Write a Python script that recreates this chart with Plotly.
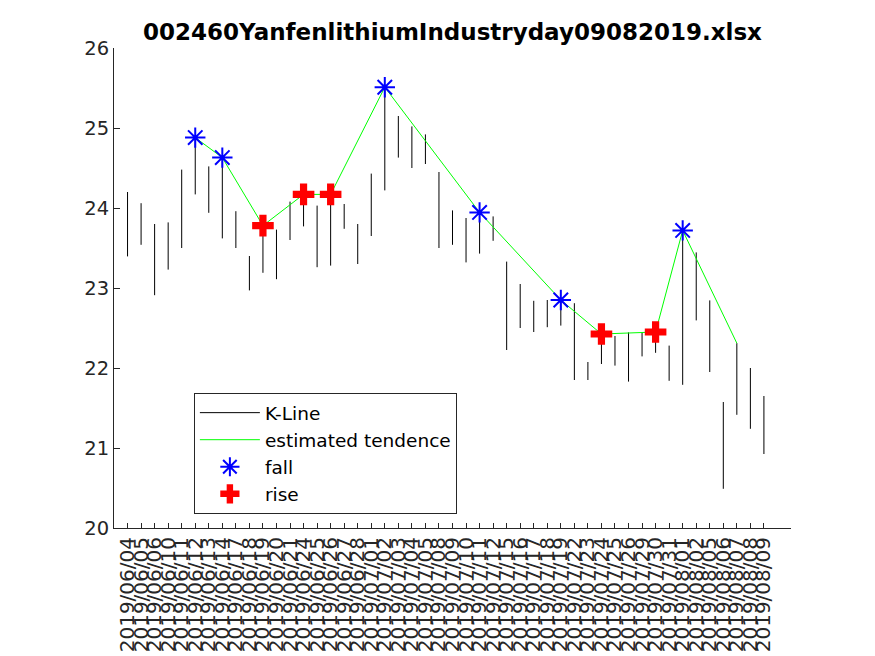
import plotly.graph_objects as go

dates = ["2019/06/04", "2019/06/05", "2019/06/06", "2019/06/10", "2019/06/11", "2019/06/12",
         "2019/06/13", "2019/06/14", "2019/06/17", "2019/06/18", "2019/06/19", "2019/06/20",
         "2019/06/21", "2019/06/24", "2019/06/25", "2019/06/26", "2019/06/27", "2019/06/28",
         "2019/07/01", "2019/07/02", "2019/07/03", "2019/07/04", "2019/07/05", "2019/07/08",
         "2019/07/09", "2019/07/10", "2019/07/11", "2019/07/12", "2019/07/15", "2019/07/16",
         "2019/07/17", "2019/07/18", "2019/07/19", "2019/07/22", "2019/07/23", "2019/07/24",
         "2019/07/25", "2019/07/26", "2019/07/29", "2019/07/30", "2019/07/31", "2019/08/01",
         "2019/08/02", "2019/08/05", "2019/08/06", "2019/08/07", "2019/08/08", "2019/08/09"]

high = [24.20, 24.06, 23.80, 23.82, 24.48, 24.88, 24.52, 24.63, 23.96, 23.40,
        23.80, 23.73, 24.08, 24.17, 24.03, 24.17, 24.05, 23.80, 24.43, 25.51,
        25.15, 25.02, 24.92, 24.45, 23.97, 23.875, 23.945, 23.895, 23.33, 23.05,
        22.84, 22.85, 22.85, 22.81, 22.075, 22.425, 22.40, 22.445, 22.44, 22.45,
        22.28, 23.72, 23.445, 22.845, 21.575, 22.31, 22.00, 21.65]
low = [23.395, 23.54, 22.91, 23.23, 23.50, 24.17, 23.94, 23.62, 23.50, 22.97,
       23.19, 23.11, 23.60, 23.77, 23.26, 23.28, 23.74, 23.30, 23.65, 24.22,
       24.63, 24.50, 24.55, 23.50, 23.54, 23.32, 23.43, 23.59, 22.225, 22.50,
       22.45, 22.51, 22.53, 21.85, 21.85, 22.05, 22.03, 21.83, 22.145, 22.19,
       21.84, 21.79, 22.595, 21.95, 20.49, 21.415, 21.24, 20.925]

trend_idx = [6, 8, 11, 14, 16, 20, 27, 33, 36, 40, 42, 46]
trend_val = [24.88, 24.63, 23.78, 24.17, 24.17, 25.51, 23.945, 22.85, 22.425, 22.45, 23.72, 22.31]

fall_idx = [6, 8, 20, 27, 33, 42]
fall_val = [24.88, 24.63, 25.51, 23.945, 22.85, 23.72]

rise_idx = [11, 14, 16, 36, 40]
rise_val = [23.78, 24.17, 24.17, 22.425, 22.45]

positions = list(range(1, len(dates) + 1))

kx, ky = [], []
for p, lo, hi in zip(positions, low, high):
    kx += [p, p, None]
    ky += [lo, hi, None]

axis_col = "#262626"
fnt = "DejaVu Sans, Liberation Sans, sans-serif"

fig = go.Figure()
fig.add_trace(go.Scatter(x=kx, y=ky, mode="lines", name="K-Line",
                         line=dict(color="black", width=1)))
fig.add_trace(go.Scatter(x=trend_idx, y=trend_val, mode="lines", name="estimated tendence",
                         line=dict(color="#00ff00", width=1)))
fig.add_trace(go.Scatter(x=fall_idx, y=fall_val, mode="markers", name="fall",
                         marker=dict(symbol="asterisk-open", size=17, color="blue",
                                     line=dict(color="blue", width=2))))
fig.add_trace(go.Scatter(x=rise_idx, y=rise_val, mode="markers", name="rise",
                         marker=dict(symbol="cross", size=18, color="red",
                                     line=dict(width=0))))

fig.update_layout(
    width=875, height=656,
    margin=dict(l=106, r=92, t=40, b=136),
    paper_bgcolor="white", plot_bgcolor="white",
    font=dict(family=fnt, size=19, color=axis_col),
    title=dict(text="<b>002460YanfenlithiumIndustryday09082019.xlsx</b>",
               x=0.5, xref="paper", xanchor="center",
               y=1 - 24 / 656, yref="container", yanchor="middle",
               font=dict(family=fnt, size=23, color="black")),
    showlegend=True,
    legend=dict(x=0.118, y=0.281, xanchor="left", yanchor="top",
                bgcolor="white", bordercolor=axis_col, borderwidth=1,
                font=dict(family=fnt, size=18.5, color="black"),
                tracegroupgap=0, itemwidth=60),
    xaxis=dict(range=[0, 50], tickmode="array", tickvals=positions, ticktext=dates,
               tickangle=-90, ticks="inside", ticklen=5, tickcolor=axis_col,
               showline=True, linecolor=axis_col, linewidth=1,
               showgrid=False, zeroline=False,
               tickfont=dict(family=fnt, size=20, color=axis_col)),
    yaxis=dict(range=[20, 26], dtick=1, ticks="inside", ticklen=6, tickcolor=axis_col,
               showline=True, linecolor=axis_col, linewidth=1,
               showgrid=False, zeroline=False,
               tickfont=dict(family=fnt, size=19.5, color=axis_col)),
)

fig.write_html("out.html")
